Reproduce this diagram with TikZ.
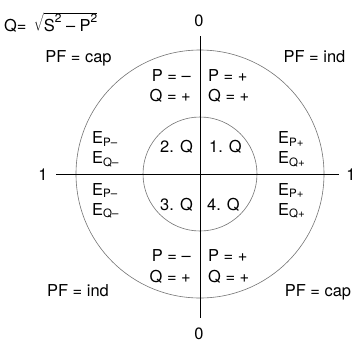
\documentclass[tikz,border=0pt]{standalone}
\usepackage{fontspec}
\setmainfont{TeX Gyre Heros}

\begin{document}
\begin{tikzpicture}[x=1bp, y=-1bp,
    every node/.style={font=\fontsize{16.5}{19}\selectfont, inner sep=0pt},
    axis/.style={line width=0.9bp},
    ring/.style={draw=black!55, line width=0.6bp},
    lt/.style={anchor=base east},
    rt/.style={anchor=base west},
    mid/.style={anchor=base}]
  \useasboundingbox (0,0) rectangle (355,344);
  \coordinate (o) at (200,174);

  % circles
  \draw[ring] (o) circle[radius=124];
  \draw[ring] (o) circle[radius=57];

  % axes
  \coordinate (ax top) at (200,36);
  \coordinate (ax bot) at (200,318);
  \coordinate (ax left) at (56,174);
  \coordinate (ax right) at (339,174);
  \draw[axis] (ax top) -- (ax bot);
  \draw[axis] (ax left) -- (ax right);

  % axis labels
  \node[mid] (zero top) at (199,26.5) {0};
  \node[mid] (zero bot) at (199,339) {0};
  \node[mid] (one left) at (43,180) {1};
  \node[mid] (one right) at (351,180) {1};

  % formula
  \node[rt] (qform) at (4,31) {Q=\ \,$\sqrt{\mbox{S\raisebox{0.5em}{\fontsize{12}{12}\selectfont 2} – P\raisebox{0.5em}{\fontsize{12}{12}\selectfont 2}}}$};

  % power factor
  \node[mid] (pf tl) at (78.5,62) {PF = cap};
  \node[mid] (pf tr) at (314.5,62) {PF = ind};
  \node[mid] (pf bl) at (78,296) {PF = ind};
  \node[mid] (pf br) at (318,296) {PF = cap};

  % signs
  \node[lt] (p tl) at (191,81) {P = –};
  \node[lt] (q tl) at (191,101.5) {Q = +};
  \node[rt] (p tr) at (208,81) {P = +};
  \node[rt] (q tr) at (208,101.5) {Q = +};
  \node[lt] (p bl) at (191,261.5) {P = –};
  \node[lt] (q bl) at (191,282) {Q = +};
  \node[rt] (p br) at (208,261.5) {P = +};
  \node[rt] (q br) at (208,282) {Q = +};

  % energies
  \node[rt] (ep ul) at (92,143.5) {E\textsubscript{P–}};
  \node[rt] (eq ul) at (92,163.5) {E\textsubscript{Q–}};
  \node[rt] (ep ll) at (92,195) {E\textsubscript{P–}};
  \node[rt] (eq ll) at (92,215) {E\textsubscript{Q–}};
  \node[rt] (ep ur) at (278,143.5) {E\textsubscript{P+}};
  \node[rt] (eq ur) at (278,163.5) {E\textsubscript{Q+}};
  \node[rt] (ep lr) at (278,195) {E\textsubscript{P+}};
  \node[rt] (eq lr) at (278,215) {E\textsubscript{Q+}};

  % quadrants
  \node[lt] (quad 2) at (193,152) {2. Q};
  \node[rt] (quad 1) at (209,152) {1. Q};
  \node[lt] (quad 3) at (193,210) {3. Q};
  \node[rt] (quad 4) at (207,210) {4. Q};
\end{tikzpicture}
\end{document}
